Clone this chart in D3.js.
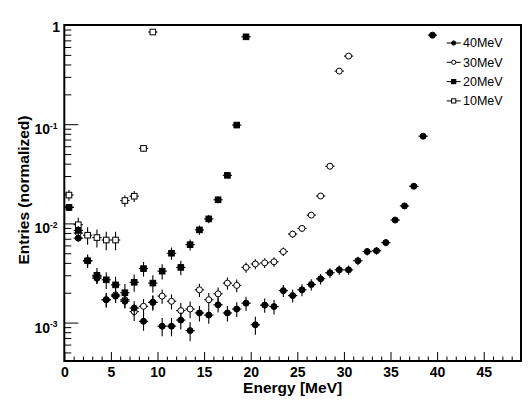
<!DOCTYPE html>
<html lang="en">
<head>
<meta charset="UTF-8">
<title>Entries vs Energy</title>
<script src="https://d3js.org/d3.v7.min.js"></script>
<style>
  body { margin: 0; background: #fff; }
  text { font-family: "Liberation Sans", Arial, Helvetica, sans-serif; }
</style>
</head>
<body>
<div id="chart"></div>
<script>

// bin centres of the 1 MeV histogram bins
var binCenters = [0.5, 1.5, 2.5, 3.5, 4.5, 5.5, 6.5, 7.5, 8.5, 9.5,
                  10.5, 11.5, 12.5, 13.5, 14.5, 15.5, 16.5, 17.5, 18.5, 19.5,
                  20.5, 21.5, 22.5, 23.5, 24.5, 25.5, 26.5, 27.5, 28.5, 29.5,
                  30.5, 31.5, 32.5, 33.5, 34.5, 35.5, 36.5, 37.5, 38.5, 39.5];

// normalized entries per bin
var e10MeV = [0.0193, 0.0097, 0.0076, 0.0072, 0.0068, 0.0068, 0.017, 0.0188, 0.057, 0.85];

var e20MeV = [0.0145, 0.0085, 0.0042, 0.0030, 0.0027, 0.0024, 0.0020, 0.00255, 0.0035, 0.0025,
              0.0033, 0.0050, 0.0036, 0.0061, 0.0086, 0.0111, 0.0173, 0.0305, 0.098, 0.76];

var e30MeV = [0.0145, 0.0080, 0.0042, 0.0029, 0.0017, 0.0019, 0.0017, 0.00129, 0.00146, 0.0016,
              0.00185, 0.00164, 0.00132, 0.00137, 0.00214, 0.0017, 0.00195, 0.0025, 0.00237, 0.0036,
              0.0039, 0.0040, 0.0041, 0.0052, 0.0078, 0.0089, 0.0121, 0.0189, 0.0377, 0.343,
              0.486];

var e40MeV = [0.0145, 0.0071, 0.0042, 0.0028, 0.0017, 0.00185, 0.00164, 0.0014, 0.00103, 0.0016,
              0.00092, 0.00092, 0.00106, 0.00083, 0.00125, 0.00119, 0.00151, 0.00125, 0.00137, 0.00157,
              0.00095, 0.0015, 0.00145, 0.0021, 0.00187, 0.00214, 0.00242, 0.00276, 0.00318, 0.0034,
              0.0034, 0.0042, 0.0052, 0.0053, 0.0064, 0.0108, 0.015, 0.0237, 0.0757, 0.79];

// number of entries behind each normalized histogram (for the stat. error bars)
var nEntries = { "10MeV": 3300, "20MeV": 10000, "30MeV": 20000, "40MeV": 25000 };

var xTicks = [0, 5, 10, 15, 20, 25, 30, 35, 40, 45];
var yTicks = [0.001, 0.01, 0.1, 1];
var yTickExp = ["-3", "-2", "-1", ""];

// set the dimensions and margins of the graph
var W = 531, H = 403;
var margin = {top: 25, right: 10, bottom: 42, left: 64.3};

var svg = d3.select("#chart")
  .append("svg")
    .attr("width", W)
    .attr("height", H);

var x = d3.scaleLinear()
  .domain([0, 49])
  .range([margin.left, W - margin.right]);

var y = d3.scaleLog()
  .domain([0.00041, 1])
  .range([H - margin.bottom, margin.top]);

// minor ticks
var xMinor = [];
for (var i = 0; i <= 48; i++) if (i % 5 !== 0) xMinor.push(i);
var yMinor = [];
[0.0001, 0.001, 0.01, 0.1].forEach(function(d) {
  for (var k = 2; k <= 9; k++) {
    var v = d * k;
    if (v >= y.domain()[0] && v < 1) yMinor.push(v);
  }
});

var x0 = y.range()[0];

svg.append("g")
  .attr("transform", "translate(0," + x0 + ")")
  .call(d3.axisBottom(x).tickValues(xMinor).tickSize(-4.5).tickFormat(""))
  .call(function(g) { g.select(".domain").remove(); });

svg.append("g")
  .attr("class", "xaxis")
  .attr("transform", "translate(0," + x0 + ")")
  .call(d3.axisBottom(x).tickValues(xTicks).tickSize(-9).tickPadding(6.5))
  .call(function(g) { g.select(".domain").remove(); });

svg.selectAll(".xaxis text")
  .attr("font-size", 14)
  .attr("font-weight", "bold")
  .attr("fill", "#000")
  .style("font-family", "'Liberation Sans', Arial, sans-serif");

svg.append("g")
  .attr("transform", "translate(" + margin.left + ",0)")
  .call(d3.axisLeft(y).tickValues(yMinor).tickSize(-7).tickFormat(""))
  .call(function(g) { g.select(".domain").remove(); });

svg.append("g")
  .attr("transform", "translate(" + margin.left + ",0)")
  .call(d3.axisLeft(y).tickValues(yTicks).tickSize(-14).tickFormat(""))
  .call(function(g) { g.select(".domain").remove(); });

svg.selectAll(".tick line").attr("stroke", "#000").attr("stroke-width", 1);

// y labels with exponents
yTicks.forEach(function(t, i) {
  var yy = y(t);
  if (yTickExp[i] === "") {
    svg.append("text")
      .attr("x", 60).attr("y", yy + 6.5)
      .attr("text-anchor", "end")
      .attr("font-size", 14).attr("font-weight", "bold")
      .text("1");
  } else {
    svg.append("text")
      .attr("x", 50).attr("y", yy + 10)
      .attr("text-anchor", "end")
      .attr("font-size", 14).attr("font-weight", "bold")
      .text("10");
    svg.append("text")
      .attr("x", 50).attr("y", yy + 4.5)
      .attr("text-anchor", "start")
      .attr("font-size", 8.5).attr("font-weight", "bold")
      .text(yTickExp[i]);
  }
});

// axis titles
svg.append("text")
  .attr("x", (x.range()[0] + x.range()[1]) / 2)
  .attr("y", 393)
  .attr("text-anchor", "middle")
  .attr("font-size", 15.5).attr("font-weight", "bold")
  .text("Energy [MeV]");

svg.append("text")
  .attr("transform", "translate(28.5," + 190 + ") rotate(-90)")
  .attr("text-anchor", "middle")
  .attr("font-size", 15.5).attr("font-weight", "bold")
  .text("Entries (normalized)");

// markers
function drawMarker(g, shape, cx, cy, s) {
  if (shape === "circle" || shape === "ocircle") {
    g.append("circle")
      .attr("cx", cx).attr("cy", cy).attr("r", s)
      .attr("fill", shape === "circle" ? "#000" : "#fff")
      .attr("stroke", "#000").attr("stroke-width", 1);
  } else {
    g.append("rect")
      .attr("x", cx - s).attr("y", cy - s)
      .attr("width", 2 * s).attr("height", 2 * s)
      .attr("fill", shape === "square" ? "#000" : "#fff")
      .attr("stroke", "#000").attr("stroke-width", 1);
  }
}

var series = [
  {name: "10MeV", values: e10MeV, shape: "osquare"},
  {name: "30MeV", values: e30MeV, shape: "ocircle"},
  {name: "20MeV", values: e20MeV, shape: "square"},
  {name: "40MeV", values: e40MeV, shape: "circle"}
];

var plot = svg.append("g");
series.forEach(function(s) {
  var g = plot.append("g");
  var n = nEntries[s.name];
  s.values.forEach(function(v, i) {
    var c = binCenters[i];
    var err = Math.sqrt(v / n);
    var lo = Math.max(v - err, y.domain()[0]);
    var cx = x(c), cy = y(v);
    g.append("line")
      .attr("x1", x(c - 0.5)).attr("x2", x(c + 0.5))
      .attr("y1", cy).attr("y2", cy)
      .attr("stroke", "#000").attr("stroke-width", 1.1);
    g.append("line")
      .attr("x1", cx).attr("x2", cx)
      .attr("y1", y(lo)).attr("y2", y(v + err))
      .attr("stroke", "#000").attr("stroke-width", 1.1);
    drawMarker(g, s.shape, cx, cy, s.shape.indexOf("circle") >= 0 ? 3 : 2.8);
  });
});

// frame
svg.append("rect")
  .attr("x", x.range()[0]).attr("y", y.range()[1])
  .attr("width", x.range()[1] - x.range()[0])
  .attr("height", y.range()[0] - y.range()[1])
  .attr("fill", "none")
  .attr("stroke", "#000").attr("stroke-width", 2);

// legend
var legendItems = ["40MeV", "30MeV", "20MeV", "10MeV"];
var legendShapes = {"40MeV": "circle", "30MeV": "ocircle", "20MeV": "square", "10MeV": "osquare"};
legendItems.forEach(function(name, i) {
  var ly = 43 + i * 19.3;
  svg.append("line")
    .attr("x1", 446.7).attr("x2", 460.7)
    .attr("y1", ly).attr("y2", ly)
    .attr("stroke", "#000").attr("stroke-width", 1);
  drawMarker(svg, legendShapes[name], 453.7, ly, 2.1);
  svg.append("text")
    .attr("x", 463).attr("y", ly + 4.3)
    .attr("font-size", 12.5)
    .text(name);
});

</script>
</body>
</html>
